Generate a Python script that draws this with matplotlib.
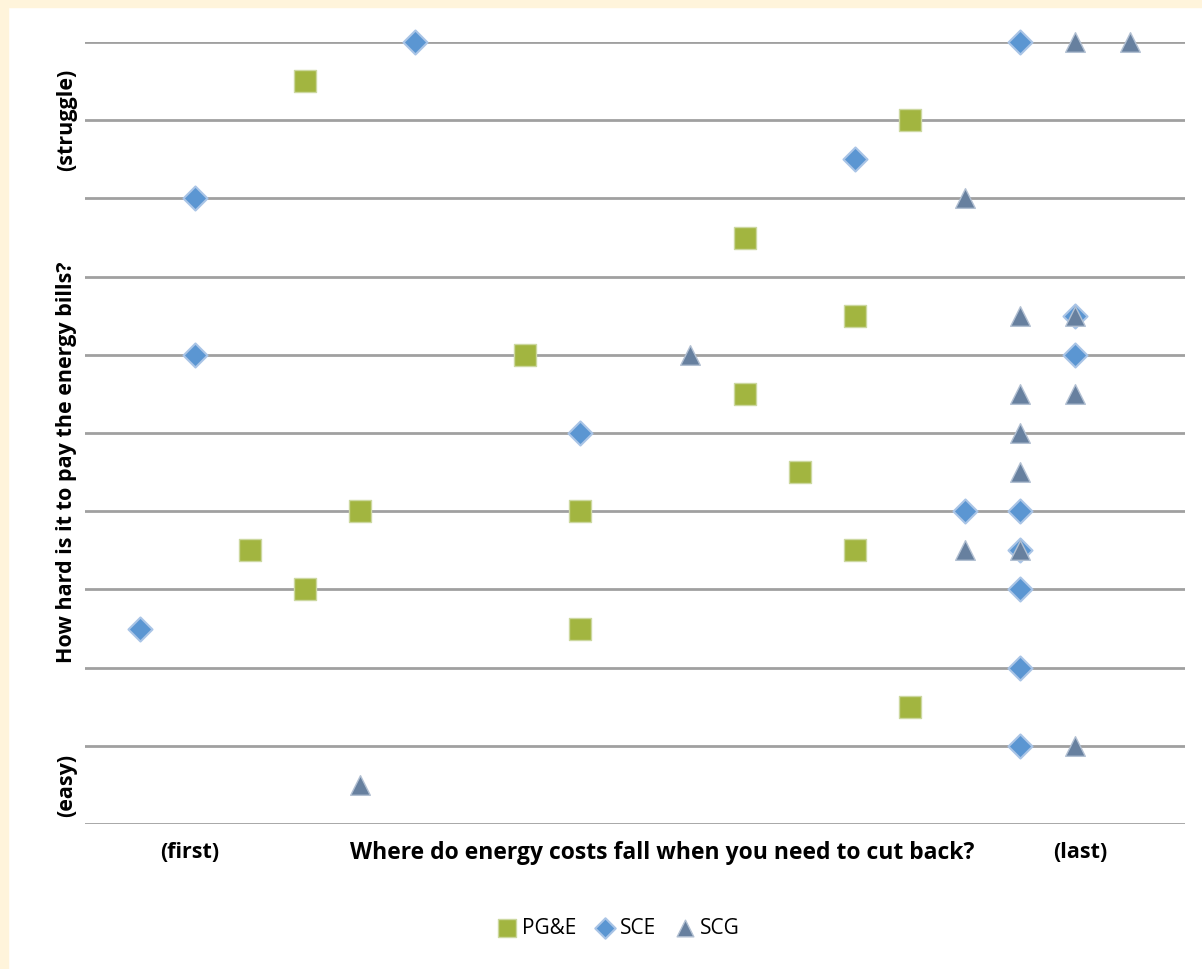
import matplotlib
matplotlib.use('Agg')
import matplotlib.pyplot as plt
from matplotlib.patches import Rectangle

plt.rcParams['font.family'] = ['Open Sans', 'DejaVu Sans']

# x: posición en la lista de recortes (1 = primero, 20 = último)
# y: dificultad para pagar (1 = fácil, 20 = cuesta mucho)
pge_x = [4, 15, 12, 14, 8, 12, 13, 5, 9, 3, 14, 4, 9, 15]
pge_y = [19, 18, 15, 13, 12, 11, 9, 8, 8, 7, 7, 6, 5, 3]

sce_x = [6, 17, 14, 2, 18, 2, 18, 9, 16, 17, 17, 17, 1, 17, 17]
sce_y = [20, 20, 17, 16, 13, 12, 12, 10, 8, 8, 7, 6, 5, 4, 2]

scg_x = [18, 19, 16, 17, 18, 11, 17, 18, 17, 17, 16, 17, 18, 5]
scg_y = [20, 20, 16, 13, 13, 12, 11, 11, 10, 9, 7, 7, 2, 1]

W, H = 1202, 969
fig = plt.figure(figsize=(W / 100, H / 100), dpi=100)
fig.patch.set_facecolor('white')

# borde crema (izquierda y arriba)
cream = '#FFF4DB'
fig.patches.append(Rectangle((0, 0), 8 / W, 1, transform=fig.transFigure, color=cream, zorder=0))
fig.patches.append(Rectangle((0, 1 - 7 / H), 1, 7 / H, transform=fig.transFigure, color=cream, zorder=0))

ax = fig.add_axes([85 / W, (H - 824) / H, 1100 / W, 782 / H])
ax.set_xlim(0, 20)
ax.set_ylim(0, 20)
for s in ax.spines.values():
    s.set_visible(False)
ax.set_xticks([])
ax.set_yticks([])

for yv in range(0, 21, 2):
    ax.axhline(yv, color='#A0A0A0', lw=2, zorder=1)

ax.scatter(pge_x, pge_y, marker='s', s=230, color='#A2B540', edgecolors='#CCD8A0',
           linewidths=1, zorder=3, clip_on=False, label='PG&E')
ax.scatter(sce_x, sce_y, marker='D', s=150, color='#5B96D2', edgecolors='#A9C4E6',
           linewidths=1.5, zorder=4, clip_on=False, label='SCE')
ax.scatter(scg_x, scg_y, marker='^', s=200, color='#67809F', edgecolors='#B2C0D2',
           linewidths=1, zorder=5, clip_on=False, label='SCG')

tkw = dict(fontsize=15.5, fontweight='bold', color='black')
fig.text(67 / W, 1 - 120 / H, '(struggle)', rotation=90, ha='center', va='center', **tkw)
fig.text(67 / W, 1 - 462 / H, 'How hard is it to pay the energy bills?', rotation=90,
         ha='center', va='center', **tkw)
fig.text(67 / W, 1 - 785 / H, '(easy)', rotation=90, ha='center', va='center', **tkw)

fig.text(190 / W, 1 - 853 / H, '(first)', ha='center', va='center', **tkw)
fig.text(662 / W, 1 - 853 / H, 'Where do energy costs fall when you need to cut back?',
         ha='center', va='center', fontsize=16.5, fontweight='bold', color='black')
fig.text(1080 / W, 1 - 853 / H, '(last)', ha='center', va='center', **tkw)

fig.legend(loc='center', bbox_to_anchor=(618 / W, 1 - 928 / H), ncol=3, frameon=False,
           fontsize=15, handlelength=1.0, handletextpad=0.2, columnspacing=0.9,
           markerscale=0.85)

fig.savefig('out.png', dpi=100, facecolor=fig.get_facecolor())
